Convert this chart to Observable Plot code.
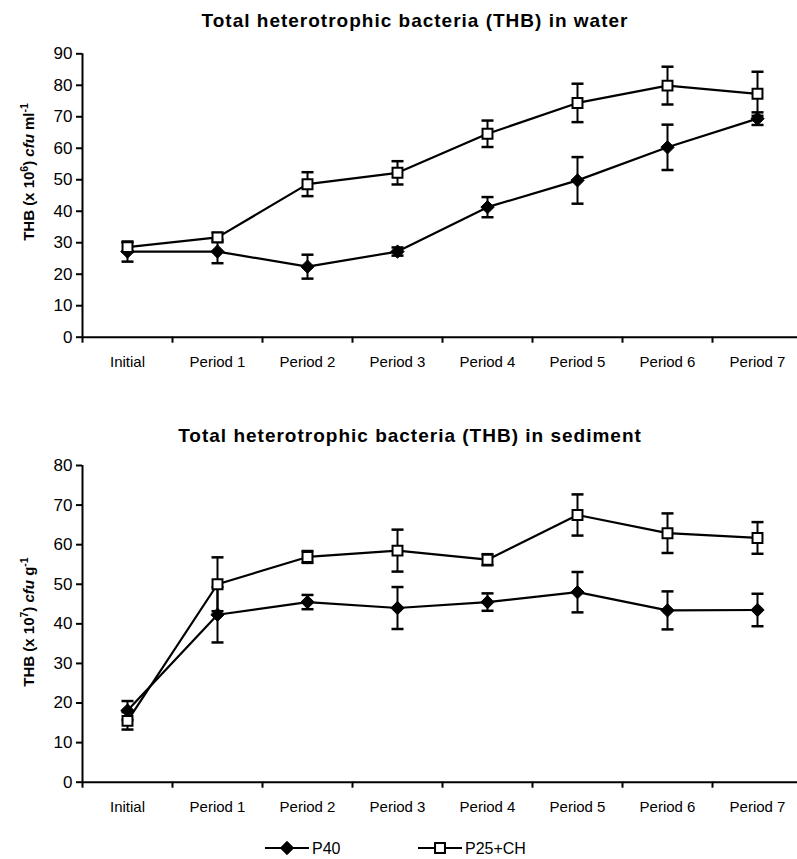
<!DOCTYPE html>
<html>
<head>
<meta charset="utf-8">
<script src="https://cdn.jsdelivr.net/npm/d3@7"></script>
<script src="https://cdn.jsdelivr.net/npm/@observablehq/plot@0.6"></script>
<style>
  body { margin: 0; background: #fff; }
  #page { position: relative; width: 797px; height: 859px; overflow: hidden;
          font-family: "Liberation Sans", Arial, sans-serif; color: #000; background: #fff; }
  .title { position: absolute; z-index: 2; transform: translateX(-50%); white-space: nowrap;
           font-weight: bold; font-size: 19px; line-height: 19px; letter-spacing: 1px; }
  .ylab { position: absolute; z-index: 2; white-space: nowrap; font-weight: bold; font-size: 15px; line-height: 15px;
          transform: translate(-50%, -50%) rotate(-90deg); }
  .ylab sup { font-size: 0.7em; vertical-align: 0.55em; line-height: 0; }
  .chart { position: absolute; left: 0; z-index: 1; }
  #legend { position: absolute; left: 0; top: 836px; z-index: 1; }
</style>
</head>
<body>
<div id="page">
  <div class="title" style="left:415px; top:11px">Total heterotrophic bacteria (THB) in water</div>
  <div class="ylab" style="left:28px; top:172px">THB (x 10<sup>6</sup>) <i>cfu</i> ml<sup>-1</sup></div>
  <div class="chart" id="water" style="top:0px"></div>

  <div class="title" style="left:410px; top:426px">Total heterotrophic bacteria (THB) in sediment</div>
  <div class="ylab" style="left:28px; top:622px">THB (x 10<sup>7</sup>) <i>cfu</i> g<sup>-1</sup></div>
  <div class="chart" id="sediment" style="top:400px"></div>

  <div id="legend"></div>
</div>
<script>
// Sampling occasions along the x axis
const categories = ["Initial", "Period 1", "Period 2", "Period 3", "Period 4", "Period 5", "Period 6", "Period 7"];
const seriesNames = ["P40", "P25+CH"];

// THB in water (x 10^6 cfu/ml): means and standard deviations
const waterP40 = [27.2, 27.2, 22.4, 27.2, 41.3, 49.8, 60.3, 69.4];
const waterP40Err = [3.2, 3.7, 3.8, 1.3, 3.2, 7.4, 7.2, 2.0];
const waterP25 = [28.6, 31.7, 48.6, 52.2, 64.6, 74.4, 79.9, 77.3];
const waterP25Err = [1.5, 1.5, 3.8, 3.7, 4.2, 6.1, 6.0, 7.0];
const waterTicks = [0, 10, 20, 30, 40, 50, 60, 70, 80, 90];

// THB in sediment (x 10^7 cfu/g): means and standard deviations
const sedimentP40 = [18.1, 42.3, 45.5, 44.0, 45.5, 48.0, 43.4, 43.5];
const sedimentP40Err = [2.4, 7.0, 1.8, 5.3, 2.2, 5.1, 4.8, 4.1];
const sedimentP25 = [15.5, 50.0, 56.9, 58.5, 56.2, 67.5, 62.9, 61.7];
const sedimentP25Err = [2.2, 6.8, 1.5, 5.3, 1.4, 5.2, 5.0, 4.0];
const sedimentTicks = [0, 10, 20, 30, 40, 50, 60, 70, 80];

// Long-format rows: one per series and occasion
function buildRows(p40, p40Err, p25, p25Err) {
  const rows = [];
  categories.forEach((c, i) => {
    rows.push({series: seriesNames[0], index: i, category: c, value: p40[i], err: p40Err[i]});
    rows.push({series: seriesNames[1], index: i, category: c, value: p25[i], err: p25Err[i]});
  });
  return rows;
}

// Horizontal cap drawn at the end of each error bar
const capSymbol = {
  draw(context, size) {
    const r = Math.sqrt(size / Math.PI);
    context.moveTo(-r, 0);
    context.lineTo(r, 0);
  }
};

const font = '"Liberation Sans", Arial, sans-serif';

function drawChart({rows, ticks, height, marginTop, marginBottom}) {
  const n = categories.length;
  const center = d => d.index + 0.5;
  const bySeries = s => rows.filter(d => d.series === s);
  const marks = [];
  // Axis lines and ticks (x ticks sit on the boundaries between occasions)
  marks.push(Plot.axisY({ticks, tickSize: 6, tickPadding: 4, strokeWidth: 2, label: null, fontSize: 17}));
  marks.push(Plot.axisX({ticks: d3.range(n + 1), tickSize: 6, strokeWidth: 2, tickFormat: () => "", label: null}));
  marks.push(Plot.axisX({ticks: d3.range(n).map(i => i + 0.5), tickSize: 0, tickPadding: 19,
    tickFormat: v => categories[Math.floor(v)], label: null, fontSize: 15}));
  marks.push(Plot.ruleX([0], {stroke: "black", strokeWidth: 2}));
  marks.push(Plot.ruleY([0], {stroke: "black", strokeWidth: 2}));

  for (const s of seriesNames) {
    const data = bySeries(s);
    marks.push(Plot.ruleX(data, {x: center, y1: d => d.value - d.err, y2: d => d.value + d.err,
      stroke: "black", strokeWidth: 2}));
    marks.push(Plot.dot(data, {x: center, y: d => d.value + d.err, symbol: capSymbol, r: 6,
      stroke: "black", strokeWidth: 2.5, fill: "none"}));
    marks.push(Plot.dot(data, {x: center, y: d => d.value - d.err, symbol: capSymbol, r: 6,
      stroke: "black", strokeWidth: 2.5, fill: "none"}));
    marks.push(Plot.line(data, {x: center, y: "value", stroke: "black", strokeWidth: 2.2}));
  }
  // Markers on top of the lines
  marks.push(Plot.dot(bySeries("P40"), {x: center, y: "value", symbol: "diamond2", r: 6,
    fill: "black", stroke: "black", strokeWidth: 1}));
  marks.push(Plot.dot(bySeries("P25+CH"), {x: center, y: "value", symbol: "square", r: 5.6,
    fill: "white", stroke: "black", strokeWidth: 2}));

  return Plot.plot({
    width: 797,
    height,
    marginLeft: 82,
    marginRight: -5,
    marginTop,
    marginBottom,
    style: {fontFamily: font, fontSize: "16px", color: "black", background: "transparent", overflow: "visible"},
    x: {domain: [0, n], axis: null},
    y: {domain: [0, ticks[ticks.length - 1]], axis: null},
    marks
  });
}

document.getElementById("water").append(drawChart({
  rows: buildRows(waterP40, waterP40Err, waterP25, waterP25Err),
  ticks: waterTicks, height: 385, marginTop: 53.3, marginBottom: 48.3
}));
document.getElementById("sediment").append(drawChart({
  rows: buildRows(sedimentP40, sedimentP40Err, sedimentP25, sedimentP25Err),
  ticks: sedimentTicks, height: 430, marginTop: 65, marginBottom: 48.3
}));

// Legend: line-and-marker swatches for each series
(function legend() {
  const svg = d3.create("svg").attr("width", 797).attr("height", 24)
    .style("font-family", font).style("font-size", "16px");
  const items = [
    {name: seriesNames[0], x0: 265, symbol: d3.symbolDiamond2, size: Math.PI * 36, fill: "black", sw: 1},
    {name: seriesNames[1], x0: 418, symbol: d3.symbolSquare, size: Math.PI * 5.6 * 5.6, fill: "white", sw: 2}
  ];
  const cy = 12;
  for (const it of items) {
    const g = svg.append("g");
    g.append("line").attr("x1", it.x0).attr("x2", it.x0 + 44).attr("y1", cy).attr("y2", cy)
      .attr("stroke", "black").attr("stroke-width", 2);
    g.append("path").attr("d", d3.symbol(it.symbol, it.size)())
      .attr("transform", `translate(${it.x0 + 22},${cy})`)
      .attr("fill", it.fill).attr("stroke", "black").attr("stroke-width", it.sw);
    g.append("text").attr("x", it.x0 + 47).attr("y", cy).attr("dy", "0.36em").text(it.name);
  }
  document.getElementById("legend").append(svg.node());
})();
</script>
</body>
</html>
